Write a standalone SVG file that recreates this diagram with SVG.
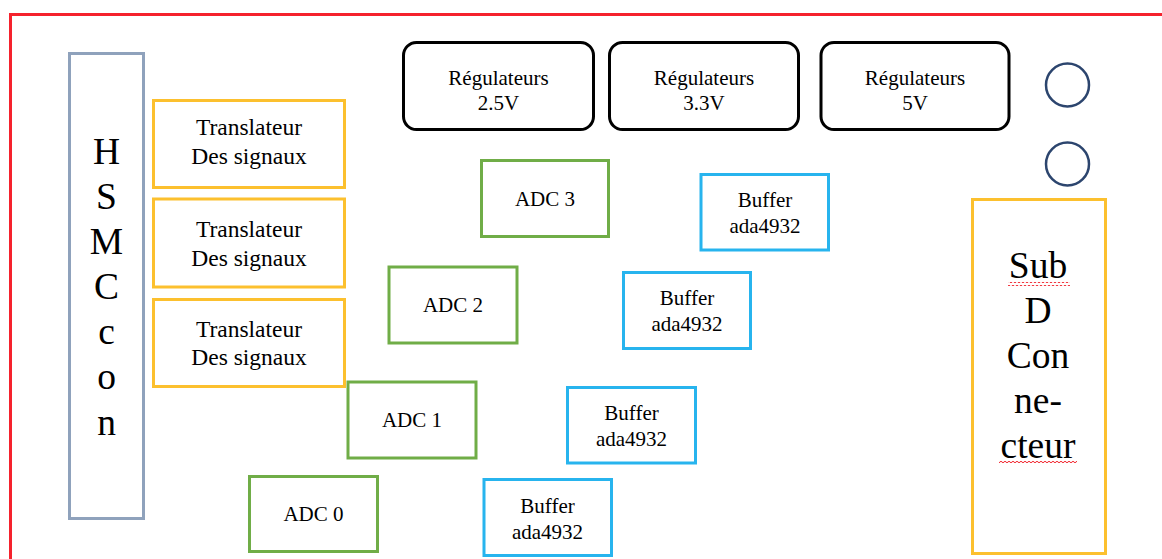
<svg xmlns="http://www.w3.org/2000/svg" width="1162" height="559" viewBox="0 0 1162 559">
  <defs>
    <style>
      text { font-family: "Liberation Serif", "Times New Roman", Times, "DejaVu Serif", serif; fill: #000; text-anchor: middle; }
      .s21 { font-size: 21px; }
      .s23 { font-size: 23.5px; }
      .big { font-size: 37.5px; }
      .gold { fill: #fff; stroke: #FCC02E; stroke-width: 3; }
      .green { fill: #fff; stroke: #70AD47; stroke-width: 3; }
      .blue { fill: #fff; stroke: #27B4EE; stroke-width: 3; }
      .reg { fill: #fff; stroke: #000; stroke-width: 3; }
      .circ { fill: none; stroke: #2C456E; stroke-width: 2.5; }
    </style>
    <pattern id="wave" x="0" y="0" width="4" height="4" patternUnits="userSpaceOnUse">
      <path d="M0 2 Q1 0.5 2 2 T4 2" fill="none" stroke="#F01E28" stroke-width="1"/>
    </pattern>
  </defs>
  <rect width="1162" height="559" fill="#fff"/>
  <rect x="10.5" y="14.5" width="1200" height="600" fill="none" stroke="#F5222D" stroke-width="3"/>

  <g id="hsmc">
    <rect x="69.5" y="53.5" width="74" height="465" fill="#fff" stroke="#8FA2BC" stroke-width="3"/>
    <text class="big" x="106.5" y="164">H</text>
    <text class="big" x="106.5" y="209">S</text>
    <text class="big" x="106.5" y="254">M</text>
    <text class="big" x="106.5" y="299">C</text>
    <text class="big" x="106.5" y="344">c</text>
    <text class="big" x="106.5" y="389">o</text>
    <text class="big" x="106.5" y="435">n</text>
  </g>

  <g id="translateur1">
    <rect class="gold" x="153.5" y="100.5" width="191" height="87"/>
    <text class="s23" x="249" y="135">Translateur</text>
    <text class="s23" x="249" y="164">Des signaux</text>
  </g>
  <g id="translateur2">
    <rect class="gold" x="153.5" y="199" width="191" height="88"/>
    <text class="s23" x="249" y="237">Translateur</text>
    <text class="s23" x="249" y="266">Des signaux</text>
  </g>
  <g id="translateur3">
    <rect class="gold" x="153.5" y="299.5" width="191" height="87"/>
    <text class="s23" x="249" y="337">Translateur</text>
    <text class="s23" x="249" y="365">Des signaux</text>
  </g>

  <g id="reg25">
    <rect class="reg" x="403.5" y="42.5" width="190" height="87" rx="13"/>
    <text class="s21" x="498.5" y="85">Régulateurs</text>
    <text class="s21" x="498.5" y="110">2.5V</text>
  </g>
  <g id="reg33">
    <rect class="reg" x="609.5" y="42.5" width="189" height="87" rx="13"/>
    <text class="s21" x="704" y="85">Régulateurs</text>
    <text class="s21" x="704" y="110">3.3V</text>
  </g>
  <g id="reg5">
    <rect class="reg" x="821" y="42.5" width="188" height="87" rx="13"/>
    <text class="s21" x="915" y="85">Régulateurs</text>
    <text class="s21" x="915" y="110">5V</text>
  </g>

  <g id="circle1"><circle class="circ" cx="1067.5" cy="85" r="21.5"/></g>
  <g id="circle2"><circle class="circ" cx="1067.5" cy="164" r="21.5"/></g>

  <g id="subd">
    <rect class="gold" x="972.5" y="199.5" width="133" height="354"/>
    <text class="big" x="1038" y="278">Sub</text>
    <text class="big" x="1038" y="323">D</text>
    <text class="big" x="1038" y="368">Con</text>
    <text class="big" x="1038" y="413">ne-</text>
    <text class="big" x="1038" y="458">cteur</text>
    <rect x="1008" y="282" width="62" height="4" fill="url(#wave)"/>
    <rect x="999" y="461" width="78" height="4" fill="url(#wave)"/>
  </g>

  <g id="adc3">
    <rect class="green" x="481.5" y="160.5" width="127" height="76"/>
    <text class="s21" x="545" y="206">ADC 3</text>
  </g>
  <g id="adc2">
    <rect class="green" x="389" y="267" width="128" height="76"/>
    <text class="s21" x="453" y="312">ADC 2</text>
  </g>
  <g id="adc1">
    <rect class="green" x="348" y="382" width="128" height="76"/>
    <text class="s21" x="412" y="427">ADC 1</text>
  </g>
  <g id="adc0">
    <rect class="green" x="249.5" y="476.5" width="128" height="75"/>
    <text class="s21" x="313.5" y="521">ADC 0</text>
  </g>

  <g id="buffer3">
    <rect class="blue" x="701" y="174.5" width="127.5" height="75.5"/>
    <text class="s21" x="765" y="207">Buffer</text>
    <text class="s21" x="765" y="233">ada4932</text>
  </g>
  <g id="buffer2">
    <rect class="blue" x="623.5" y="272.5" width="127" height="76"/>
    <text class="s21" x="687" y="305">Buffer</text>
    <text class="s21" x="687" y="331">ada4932</text>
  </g>
  <g id="buffer1">
    <rect class="blue" x="567.5" y="387.5" width="128" height="75.5"/>
    <text class="s21" x="631.5" y="420">Buffer</text>
    <text class="s21" x="631.5" y="446">ada4932</text>
  </g>
  <g id="buffer0">
    <rect class="blue" x="484" y="479.5" width="127.5" height="76"/>
    <text class="s21" x="547.5" y="513">Buffer</text>
    <text class="s21" x="547.5" y="539">ada4932</text>
  </g>

  <g id="connectors"></g>
</svg>
